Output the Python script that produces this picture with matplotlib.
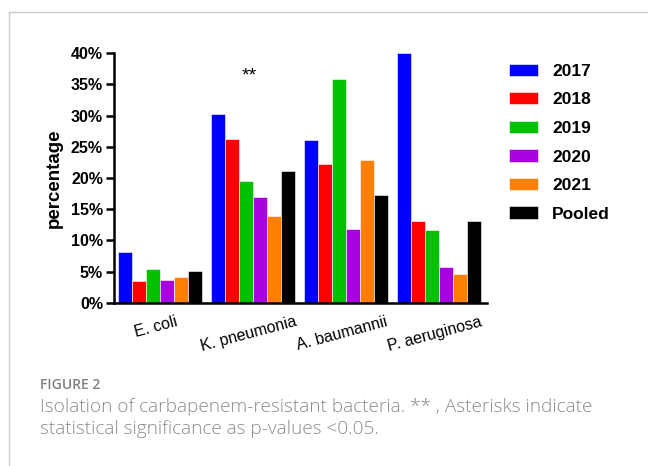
import matplotlib.pyplot as plt
from matplotlib.lines import Line2D
from matplotlib.ticker import PercentFormatter
import numpy as np

plt.rcParams['font.family'] = ['Liberation Sans', 'DejaVu Sans']

bacteria = ['E. coli', 'K. pneumonia', 'A. baumannii', 'P. aeruginosa']
years = ['2017', '2018', '2019', '2020', '2021', 'Pooled']
colors = ['#0000ff', '#ff0000', '#00c000', '#a800e0', '#ff8000', '#000000']

# percentages per year, one value per bacterium
pct_2017 = [8.2, 30.2, 26.1, 40.0]
pct_2018 = [3.5, 26.2, 22.3, 13.1]
pct_2019 = [5.5, 19.6, 35.9, 11.6]
pct_2020 = [3.7, 16.9, 11.9, 5.7]
pct_2021 = [4.2, 13.9, 22.9, 4.6]
pct_pooled = [5.1, 21.1, 17.2, 13.1]
series = [pct_2017, pct_2018, pct_2019, pct_2020, pct_2021, pct_pooled]

fig = plt.figure(figsize=(6.48, 4.66), dpi=100)
ax = fig.add_axes([0.176, 0.35, 0.576, 0.536])

x = np.arange(len(bacteria))
w = 0.15
for i, (vals, c, yr) in enumerate(zip(series, colors, years)):
    ax.bar(x + (i - 2.5) * w, vals, w, color=c, edgecolor='white', linewidth=0.4, label=yr)

ax.set_xlim(-0.495, 3.515)
ax.set_ylim(0, 40)
ax.set_yticks(np.arange(0, 41, 5))
ax.yaxis.set_major_formatter(PercentFormatter(decimals=0))
ax.tick_params(axis='y', length=6, width=1.8, labelsize=11.5, pad=2)
for lab in ax.get_yticklabels():
    lab.set_fontweight('bold')
ax.set_xticks(x - 0.05)
ax.set_xticklabels(bacteria, rotation=15, ha='center', fontsize=11.5)
ax.tick_params(axis='x', length=0, pad=8)

for s in ['top', 'right']:
    ax.spines[s].set_visible(False)
for s in ['left', 'bottom']:
    ax.spines[s].set_linewidth(1.8)

ax.set_ylabel('percentage', fontsize=13.5, fontweight='bold', labelpad=6)
ax.text(1 - 0.043, 35.6, '**', ha='center', va='baseline', fontsize=14)

leg = ax.legend(loc='upper left', bbox_to_anchor=(1.04, 0.985), frameon=False,
                handlelength=1.67, handleheight=0.7, handletextpad=0.8,
                labelspacing=0.77, borderaxespad=0,
                prop={'weight': 'bold', 'size': 12.5})

# light frame around the figure panel
fig.add_artist(Line2D([9 / 648, 1], [1 - 12 / 466, 1 - 12 / 466], color='#cccccc', lw=1))
fig.add_artist(Line2D([9 / 648, 9 / 648], [0, 1 - 12 / 466], color='#cccccc', lw=1))

cap_font = ['Open Sans', 'DejaVu Sans']
fig.text(40 / 648, 1 - 389 / 466, 'FIGURE 2', fontsize=10, color='#808080',
         family=cap_font, fontweight='semibold', va='baseline')
fig.text(40 / 648, 1 - 412 / 466, 'Isolation of carbapenem-resistant bacteria. ** , Asterisks indicate',
         fontsize=13.7, color='#8c8c8c', family=cap_font, fontweight='light', va='baseline')
fig.text(40 / 648, 1 - 434 / 466, 'statistical significance as p-values <0.05.',
         fontsize=13.7, color='#8c8c8c', family=cap_font, fontweight='light', va='baseline')

fig.savefig('out.png', dpi=100)
